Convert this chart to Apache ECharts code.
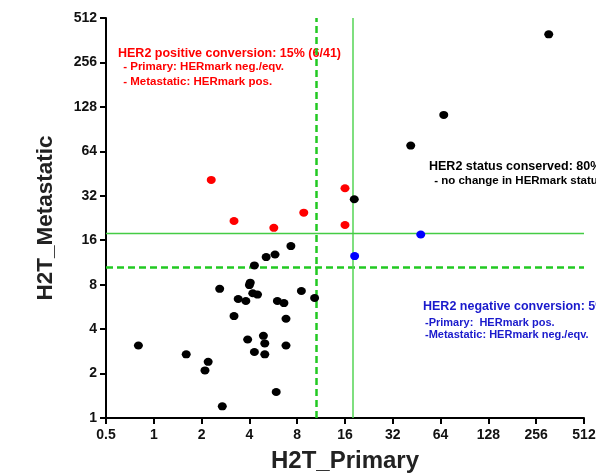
<!DOCTYPE html>
<html>
<head>
<meta charset="utf-8">
<script src="https://cdn.jsdelivr.net/npm/echarts@6/dist/echarts.min.js"></script>
<style>html,body{margin:0;padding:0;background:#fff;}#c{width:596px;height:473px;}</style>
</head>
<body>
<div id="c"></div>
<script>
// Data (H2T_Primary, H2T_Metastatic)
var conservedPoints = [
  [307, 397], [67, 113], [41.5, 70], [18.3, 30.3], [7.3, 14.6], [5.8, 12.8],
  [5.1, 12.3], [4.3, 10.8], [2.6, 7.5], [4.05, 8.25], [4.0, 7.95], [4.2, 7.0],
  [4.5, 6.85], [3.4, 6.4], [3.8, 6.2], [8.5, 7.25], [10.3, 6.5], [6.0, 6.2],
  [6.6, 6.0], [3.2, 4.9], [6.8, 4.7], [0.8, 3.1], [1.6, 2.7], [2.2, 2.4],
  [2.1, 2.1], [2.7, 1.2], [3.9, 3.4], [4.9, 3.6], [5.0, 3.2], [4.3, 2.8],
  [5.0, 2.7], [6.8, 3.1], [5.9, 1.5]
];
var positiveConversionPoints = [
  [2.3, 41], [3.2, 21.6], [5.7, 19.4], [8.8, 24.6], [16, 36], [16, 20.3]
];
var negativeConversionPoints = [
  [48, 17.5], [18.4, 12.5]
];
var dashedCutoff = 10.5;
var solidCutoff = 17.8;
var xTickLabels = ['0.5','1','2','4','8','16','32','64','128','256','512'];
var yTickLabels = ['1','2','4','8','16','32','64','128','256','512'];
var xTitle = 'H2T_Primary';
var yTitle = 'H2T_Metastatic';

var FONT = 'Arial, "Liberation Sans", sans-serif';
var chart = echarts.init(document.getElementById('c'), null, {renderer: 'canvas'});

function fmt(v) { return String(Math.round(v * 1000) / 1000); }

var option = {
  animation: false,
  backgroundColor: '#fff',
  grid: {left: 106, right: 12, top: 18, bottom: 55, containLabel: false, outerBoundsMode: 'none'},
  xAxis: {
    type: 'log', logBase: 2, min: 0.5, max: 512, interval: 1, splitNumber: 10,
    name: xTitle, nameLocation: 'middle', nameGap: 31,
    nameTextStyle: {fontFamily: FONT, fontWeight: 'bold', fontSize: 24, color: '#222'},
    axisLine: {show: true, lineStyle: {color: '#000', width: 2}},
    axisTick: {show: true, inside: false, length: 6, lineStyle: {color: '#000', width: 2}},
    axisLabel: {fontFamily: FONT, fontWeight: 'bold', fontSize: 14, color: '#111', margin: 10,
      formatter: function (v) { return fmt(v); }},
    splitLine: {show: false}, minorTick: {show: false}
  },
  yAxis: {
    type: 'log', logBase: 2, min: 1, max: 512, interval: 1, splitNumber: 9,
    name: yTitle, nameLocation: 'middle', nameGap: 49, nameRotate: 90,
    nameTextStyle: {fontFamily: FONT, fontWeight: 'bold', fontSize: 22.5, color: '#222'},
    axisLine: {show: true, lineStyle: {color: '#000', width: 2}},
    axisTick: {show: true, inside: false, length: 6, lineStyle: {color: '#000', width: 2}},
    axisLabel: {fontFamily: FONT, fontWeight: 'bold', fontSize: 14, color: '#111', margin: 9,
      formatter: function (v) { return fmt(v); }},
    splitLine: {show: false}, minorTick: {show: false}
  },
  series: [
    {
      type: 'scatter', data: conservedPoints, symbol: 'circle', symbolSize: [9, 8],
      itemStyle: {color: '#000', opacity: 1}, z: 5,
      markLine: {
        silent: true, symbol: 'none', label: {show: false}, animation: false,
        data: [
          {xAxis: dashedCutoff, lineStyle: {color: '#22c922', width: 2.5, type: [7, 4], opacity: 1}},
          {yAxis: dashedCutoff, lineStyle: {color: '#22c922', width: 2.5, type: [7, 4], opacity: 1}},
          {xAxis: solidCutoff, lineStyle: {color: '#55d455', width: 1.5, type: 'solid', opacity: 1}},
          {yAxis: solidCutoff, lineStyle: {color: '#44cc44', width: 1.3, type: 'solid', opacity: 1}}
        ]
      }
    },
    {
      type: 'scatter', data: positiveConversionPoints, symbol: 'circle', symbolSize: [9, 8],
      itemStyle: {color: '#ff0000', opacity: 1}, z: 5
    },
    {
      type: 'scatter', data: negativeConversionPoints, symbol: 'circle', symbolSize: [9, 8],
      itemStyle: {color: '#0000ff', opacity: 1}, z: 5
    }
  ],
  graphic: [
    {type: 'text', left: 118, top: 47, style: {text: 'HER2 positive conversion: 15% (6/41)', fill: '#ff0000', font: 'bold 12.5px ' + FONT}},
    {type: 'text', left: 120, top: 61, style: {text: ' - Primary: HERmark neg./eqv.', fill: '#ff0000', font: 'bold 11.5px ' + FONT}},
    {type: 'text', left: 120, top: 76, style: {text: ' - Metastatic: HERmark pos.', fill: '#ff0000', font: 'bold 11.5px ' + FONT}},
    {type: 'text', x: 429, y: 160, style: {text: 'HER2 status conserved: 80% (33/41)', fill: '#000', font: 'bold 12.5px ' + FONT}},
    {type: 'text', x: 431, y: 175, style: {text: ' - no change in HERmark status', fill: '#000', font: 'bold 11.5px ' + FONT}},
    {type: 'text', x: 423, y: 300, style: {text: 'HER2 negative conversion: 5% (2/41)', fill: '#1a1acc', font: 'bold 12.5px ' + FONT}},
    {type: 'text', x: 425, y: 317, style: {text: '-Primary:  HERmark pos.', fill: '#1a1acc', font: 'bold 11px ' + FONT}},
    {type: 'text', x: 425, y: 329, style: {text: '-Metastatic: HERmark neg./eqv.', fill: '#1a1acc', font: 'bold 11px ' + FONT}}
  ]
};
chart.setOption(option);
</script>
</body>
</html>
